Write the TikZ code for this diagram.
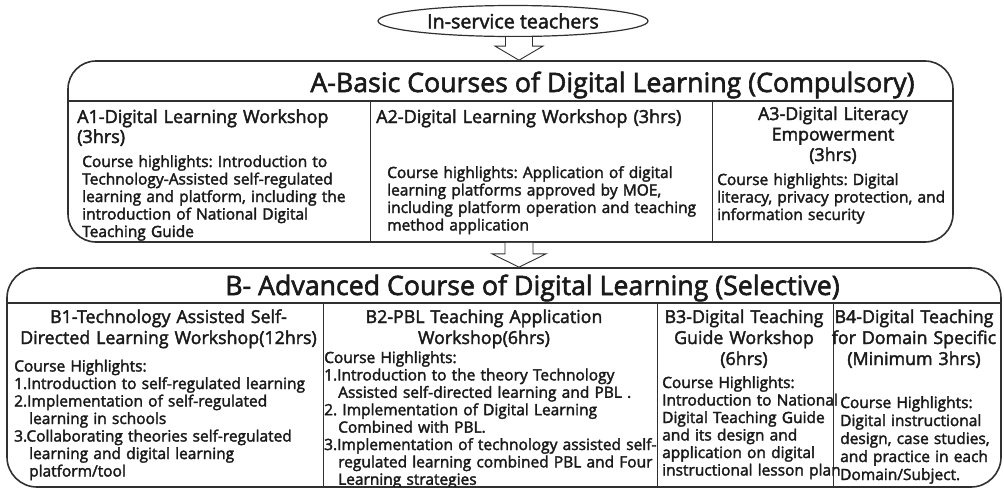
\documentclass[tikz,border=0pt]{standalone}
\usepackage{fontspec}
\setmainfont{Open Sans}[FakeBold=2.2]
\usetikzlibrary{calc,shapes.geometric}
\definecolor{ink}{HTML}{1A1A1A}
\definecolor{rulec}{HTML}{303030}
\frenchspacing
\begin{document}
\frenchspacing
\begin{tikzpicture}[x=1pt,y=-1pt,
  frame/.style={draw=rulec,line width=1.6pt,rounded corners=#1,inner sep=0pt},
  divider/.style={draw=rulec,line width=1.1pt},
  colsep/.style={draw=rulec,line width=0.8pt},
  bigarrow/.style={draw=rulec,line width=0.9pt,fill=white,line join=miter},
  body/.style={inner sep=0pt,text=ink,font=\fontsize{15.5}{#1}\selectfont\frenchspacing,text width=400pt,align=left,anchor=base west},
  body/.default=17.5,
  head/.style={inner sep=0pt,text=ink,font=\fontsize{17.8}{#1}\selectfont,text width=400pt,align=center,anchor=base},
  head/.default=21,
  headl/.style={inner sep=0pt,text=ink,font=\fontsize{18}{20}\selectfont,text width=400pt,align=left,anchor=base west},
  maintitle/.style={inner sep=0pt,text=ink,font=\fontsize{26.7}{30}\selectfont,anchor=base},
]
\useasboundingbox (0,0) rectangle (1004,488);
\fill[white] (0,0) rectangle (1004,488);

% top ellipse
\node[ellipse,draw=rulec,line width=1.2pt,minimum width=270pt,minimum height=31pt,inner sep=0pt,
      text=ink,font=\fontsize{19.7}{22}\selectfont] (ell) at (513,21) {In-service teachers};

% frames
\node[frame=28pt,minimum width=885pt,minimum height=181pt] (boxA) at (510.5,151.5) {};
\node[frame=30pt,minimum width=994pt,minimum height=219pt] (boxB) at (504,377.5) {};

% block arrows
\path (ell.south) ++(6,0) coordinate (t1);
\draw[bigarrow] ($(t1)+(-13.5,0)$) -- ($(t1)+(-13.5,9)$) -- ($(t1)+(-24,9)$)
   -- (boxA.north -| t1) -- ($(t1)+(24,9)$) -- ($(t1)+(13.5,9)$) -- ($(t1)+(13.5,0)$);
\path (boxA.south) ++(8.5,0) coordinate (t2);
\draw[bigarrow] ($(t2)+(-14,0)$) -- ($(t2)+(-14,11)$) -- ($(t2)+(-27,11)$)
   -- (boxB.north -| t2) -- ($(t2)+(27,11)$) -- ($(t2)+(14,11)$) -- ($(t2)+(14,0)$);

% dividers
\draw[divider] (boxA.west |- 0,101) -- (boxA.east |- 0,101);
\draw[colsep] (370,101) -- (370,242);
\draw[colsep] (712,101) -- (712,242);
\draw[divider] (boxB.west |- 0,303) -- (boxB.east |- 0,303);
\draw[colsep] (323,303) -- (323,487);
\draw[colsep] (657,303) -- (657,487);
\draw[colsep] (833,303) -- (833,487);

% titles
\node[maintitle] (tA) at (612.5,92) {A-Basic Courses of Digital Learning (Compulsory)};
\node[maintitle] (tB) at (532.5,295) {B- Advanced Course of Digital Learning (Selective)};

% A columns
\node[headl] (a1h) at (77,123) {A1-Digital Learning Workshop\\(3hrs)};
\node[body] (a1b) at (82,167) {Course highlights: Introduction to\\Technology-Assisted self-regulated\\learning and platform, including the\\introduction of National Digital\\Teaching Guide};
\node[headl] (a2h) at (376,123) {A2-Digital Learning Workshop (3hrs)};
\node[body] (a2b) at (387,178) {Course highlights: Application of digital\\learning platforms approved by MOE,\\including platform operation and teaching\\method application};
\node[head=20.5] (a3h) at (833,120) {A3-Digital Literacy\\Empowerment\\(3hrs)};
\node[body] (a3b) at (717,185) {Course highlights: Digital\\literacy, privacy protection, and\\information security};

% B columns
\node[head] (b1h) at (168.5,323) {B1-Technology Assisted Self-\\Directed Learning Workshop(12hrs)};
\node[body] (b1b) at (14,371.5) {Course Highlights:\\1.Introduction to self-regulated learning\\2.Implementation of self-regulated\\\hspace*{15pt}learning in schools\\3.Collaborating theories self-regulated\\\hspace*{15pt}learning and digital learning\\\hspace*{15pt}platform/tool};
\node[head] (b2h) at (484,323) {B2-PBL Teaching Application\\Workshop(6hrs)};
\begin{scope}
\clip (318,305) rectangle (660,486.2);
\node[body=17.4] (b2b) at (324,363) {Course Highlights:\\1.Introduction to the theory Technology\\\hspace*{14pt}Assisted self-directed learning and PBL .\\2. Implementation of Digital Learning\\\hspace*{14pt}Combined with PBL.\\3.Implementation of technology assisted self-\\\hspace*{14pt}regulated learning combined PBL and Four\\\hspace*{14pt}Learning strategies};
\end{scope}
\node[head] (b3h) at (744,323) {B3-Digital Teaching\\Guide Workshop\\(6hrs)};
\node[body] (b3b) at (662,388) {Course Highlights:\\Introduction to National\\Digital Teaching Guide\\and its design and\\application on digital\\instructional lesson plan};
\node[head] (b4h) at (914,323) {B4-Digital Teaching\\for Domain Specific\\(Minimum 3hrs)};
\node[body=18] (b4b) at (840,408) {Course Highlights:\\Digital instructional\\design, case studies,\\and practice in each\\Domain/Subject.};
\end{tikzpicture}
\end{document}
